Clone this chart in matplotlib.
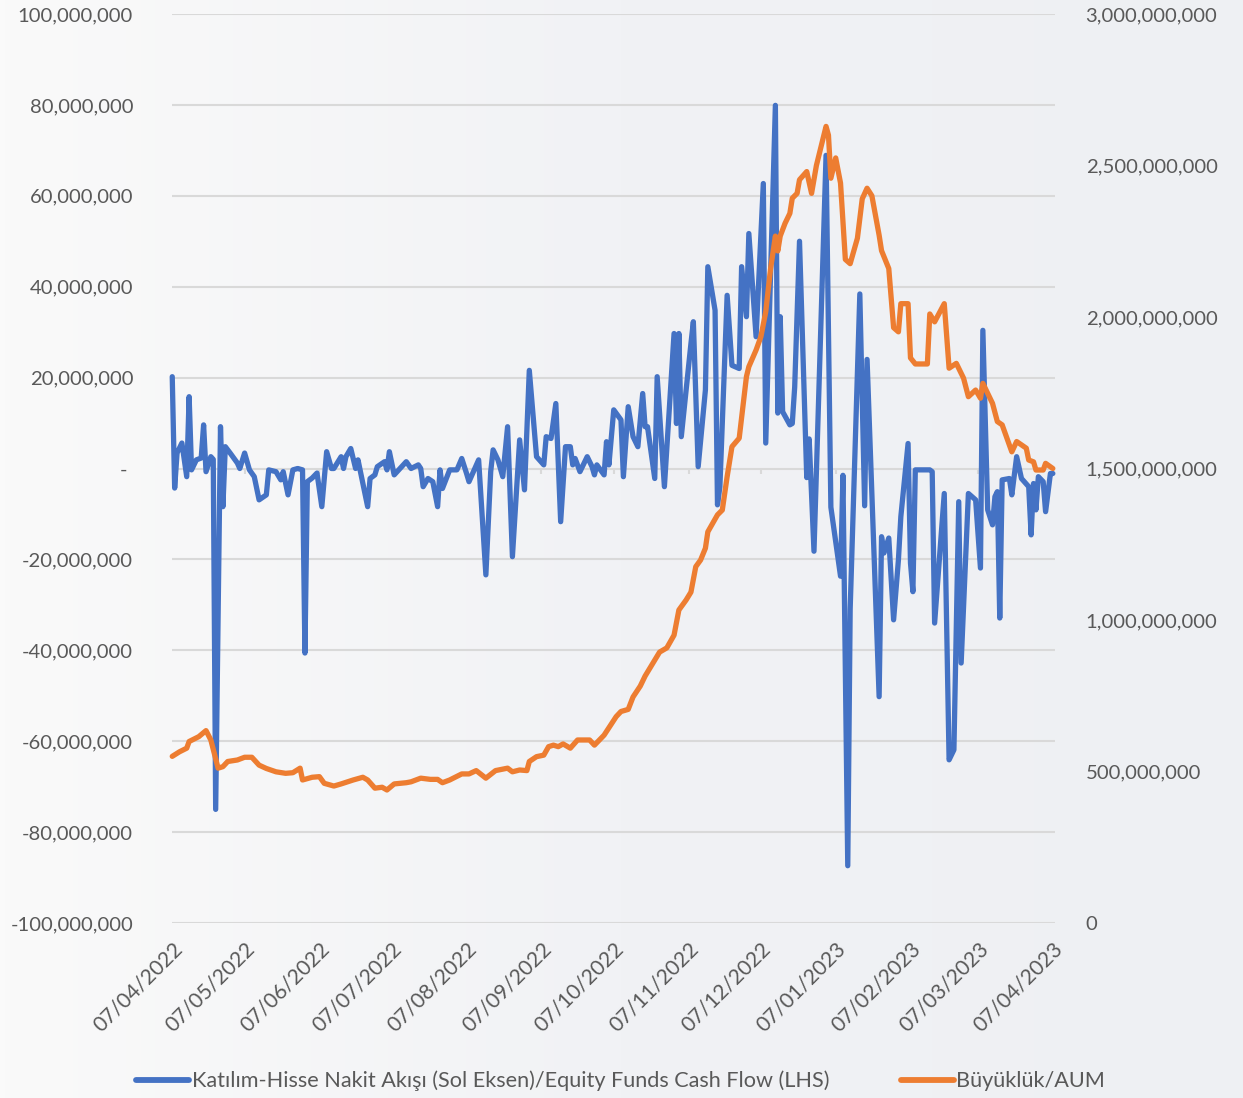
import numpy as np
import pandas as pd
import matplotlib
matplotlib.use("Agg")
import matplotlib.pyplot as plt
import matplotlib.dates as mdates
from matplotlib.ticker import FuncFormatter
from matplotlib.lines import Line2D
from matplotlib.colors import LinearSegmentedColormap

# ---------------- data ----------------
START = "2022-04-07"

# Equity funds cash flow (LHS), day offset from START and value in TRY million
flow_day = [0, 1, 2, 4, 6, 7, 8, 10, 12, 13, 14, 16, 17, 18, 20, 21, 22, 24, 27, 28,
            30, 32, 34, 36, 39, 40, 43, 45, 46, 48, 50, 52, 54, 55, 56, 58, 60, 62, 64, 66,
            67, 70, 71, 72, 74, 76, 77, 81, 82, 84, 85, 88, 89, 90, 92, 97, 99, 102, 103, 104,
            106, 108, 110, 111, 112, 115, 118, 120, 122, 123, 127, 130, 132, 133, 135, 137, 139, 141, 144, 146,
            148, 151, 154, 155, 157, 159, 161, 163, 165, 166, 167, 169, 172, 174, 175, 176, 179, 180, 181, 183,
            186, 187, 189, 191, 193, 195, 196, 197, 200, 201, 204, 208, 209, 210, 211, 215, 216, 218, 221, 222,
            225, 226, 227, 230, 232, 235, 236, 238, 239, 242, 245, 246, 250, 251, 252, 253, 256, 257, 258, 260,
            263, 264, 266, 271, 273, 277, 278, 280, 281, 285, 287, 288, 293, 294, 295, 297, 299, 301, 302, 305,
            306, 307, 308, 314, 315, 316, 320, 322, 324, 326, 327, 330, 333, 335, 336, 338, 340, 341, 342, 343,
            344, 347, 348, 350, 352, 355, 356, 357, 358, 359, 361, 362, 364, 365]
flow_mn = [20.2, -4.3, 3.4, 5.6, -1.8, 15.8, -0.3, 1.9, 2.3, 9.6, -0.7, 2.6, 2.0, -75.0, 9.2, -8.4, 4.8, 3.4, 1.2, 0.0,
           3.4, -0.3, -1.8, -6.9, -5.8, -0.3, -0.7, -2.5, -0.7, -5.8, -0.3, 0.0, -0.3, -40.6, -2.9, -2.1, -1.0, -8.4, 3.7, 0.0,
           0.0, 2.6, 0.0, 2.6, 4.4, 0.0, 1.9, -8.4, -2.2, -1.4, 0.4, 1.5, -0.3, 3.7, -1.4, 1.5, 0.0, 0.8, 0.0, -4.0,
           -2.2, -2.9, -8.4, -0.3, -4.4, -0.3, -0.3, 2.2, -1.1, -2.9, 1.9, -23.4, -0.7, 4.1, 1.9, -1.8, 9.2, -19.4, 6.3, -4.7,
           21.6, 2.6, 0.8, 7.0, 6.6, 14.3, -11.7, 4.8, 4.8, 0.8, 2.2, -0.7, 2.6, 0.4, -1.4, 0.8, -1.4, 5.9, 0.8, 12.9,
           10.7, -1.8, 13.6, 7.0, 4.8, 16.5, 9.2, 9.2, -2.2, 20.2, -4.0, 29.7, 9.9, 29.7, 7.0, 27.5, 32.3, 0.4, 17.3, 44.4,
           34.8, -8.0, -4.0, 38.1, 22.7, 22.0, 44.4, 33.4, 51.7, 29.0, 62.7, 5.6, 79.9, 12.2, 33.4, 12.5, 9.6, 9.9, 17.9, 50.0,
           -2.0, 6.5, -18.2, 68.9, -8.5, -23.7, -1.5, -87.4, -30.9, 38.4, -8.2, 24.0, -50.2, -15.0, -18.6, -15.3, -33.3, -20.1, -10.6, 5.5,
           -20.8, -27.1, -0.3, -0.3, -0.7, -34.0, -5.5, -64.1, -61.9, -7.3, -42.8, -5.5, -6.9, -21.9, 30.4, -9.1, -12.4, -6.2, -5.1, -32.9,
           -2.5, -2.2, -5.8, 2.6, -2.2, -4.0, -14.6, -3.3, -9.1, -1.8, -2.9, -9.5, -1.1, -1.1]

# AUM (RHS), day offset from START and value in TRY million
aum_day = [0, 3, 6, 7, 11, 14, 16, 19, 21, 23, 27, 30, 33, 36, 39, 43, 47, 50, 53, 54,
           58, 61, 63, 67, 70, 75, 79, 81, 84, 87, 89, 92, 97, 99, 103, 107, 110, 112, 115, 120,
           123, 126, 130, 134, 139, 141, 144, 147, 148, 151, 154, 156, 158, 160, 162, 165, 168, 173, 175, 179,
           184, 186, 189, 191, 194, 196, 200, 202, 205, 208, 210, 213, 215, 217, 219, 221, 222, 224, 226, 228,
           230, 232, 235, 238, 239, 242, 244, 246, 248, 250, 251, 252, 254, 256, 257, 259, 260, 263, 265, 267,
           271, 272, 273, 275, 277, 279, 281, 284, 286, 288, 290, 293, 294, 297, 299, 301, 302, 305, 306, 308,
           313, 314, 316, 320, 322, 325, 328, 330, 333, 335, 336, 338, 340, 342, 344, 348, 350, 354, 355, 357,
           358, 361, 362, 365]
aum_mn = [550, 565, 577, 599, 615, 635, 604, 511, 516, 533, 538, 547, 547, 521, 510, 499, 494, 496, 511, 472,
          481, 483, 461, 452, 459, 472, 481, 472, 445, 448, 439, 459, 463, 466, 478, 474, 474, 463, 472, 492,
          492, 503, 478, 503, 511, 499, 505, 503, 533, 549, 554, 582, 587, 582, 591, 577, 604, 604, 587, 620,
          681, 698, 705, 746, 782, 815, 868, 894, 908, 950, 1033, 1066, 1092, 1176, 1198, 1237, 1291, 1319, 1347, 1363,
          1473, 1572, 1600, 1803, 1836, 1891, 1935, 2017, 2159, 2267, 2218, 2267, 2309, 2342, 2392, 2408, 2453, 2480, 2408, 2500,
          2629, 2600, 2458, 2525, 2442, 2190, 2176, 2260, 2390, 2425, 2400, 2270, 2219, 2160, 1965, 1951, 2044, 2044, 1865, 1845,
          1845, 2010, 1984, 2044, 1831, 1847, 1798, 1737, 1759, 1732, 1781, 1748, 1715, 1655, 1644, 1555, 1589, 1567, 1528, 1522,
          1495, 1495, 1517, 1500]

month_ticks = ["2022-04-07", "2022-05-07", "2022-06-07", "2022-07-07", "2022-08-07",
               "2022-09-07", "2022-10-07", "2022-11-07", "2022-12-07", "2023-01-07",
               "2023-02-07", "2023-03-07", "2023-04-07"]
left_ticks_mn = [-100, -80, -60, -40, -20, 0, 20, 40, 60, 80, 100]
right_ticks_mn = [0, 500, 1000, 1500, 2000, 2500, 3000]

flow_label = "Katılım-Hisse Nakit Akışı (Sol Eksen)/Equity Funds Cash Flow (LHS)"
aum_label = "Büyüklük/AUM"

# ---------------- styling ----------------
BLUE = "#4472C4"
ORANGE = "#ED7D31"
TXT = "#595959"
GRID = "#d9d9d9"
plt.rcParams["font.family"] = ["Lato", "DejaVu Sans"]
FS = 14.6

start = pd.Timestamp(START)
flow_dates = start + pd.to_timedelta(flow_day, unit="D")
aum_dates = start + pd.to_timedelta(aum_day, unit="D")
tick_dates = pd.to_datetime(month_ticks)

fig = plt.figure(figsize=(12.43, 10.98), dpi=100)
fig.patch.set_facecolor("#f3f4f6")

# soft background
bg = fig.add_axes([0, 0, 1, 1], zorder=-10)
grad = np.linspace(0, 1, 256).reshape(1, -1)
cmap = LinearSegmentedColormap.from_list("bg", ["#fafafa", "#f1f2f5", "#eef0f3"])
bg.imshow(grad, aspect="auto", cmap=cmap, extent=[0, 1, 0, 1])
bg.axis("off")

L, R, T, B = 172 / 1243, 1055 / 1243, 1 - 14 / 1098, 1 - 923 / 1098
ax = fig.add_axes([L, B, R - L, T - B])
ax.set_facecolor("none")
ax2 = ax.twinx()

ax.plot(flow_dates, np.array(flow_mn) * 1e6, color=BLUE, lw=3.8,
        solid_joinstyle="round", solid_capstyle="round", zorder=3, clip_on=False)
ax2.plot(aum_dates, np.array(aum_mn) * 1e6, color=ORANGE, lw=3.8,
         solid_joinstyle="round", solid_capstyle="round", zorder=3, clip_on=False)

ax.set_xlim(start - pd.Timedelta(days=0.1), tick_dates[-1] + pd.Timedelta(days=0.9))
ax.set_ylim(-100e6, 100e6)
ax2.set_ylim(0, 3e9)

ax.set_yticks(np.array(left_ticks_mn) * 1e6)
ax2.set_yticks(np.array(right_ticks_mn) * 1e6)


def left_fmt(v, pos):
    if abs(v) < 1:
        return "- "
    return f"{v:,.0f}"


def right_fmt(v, pos):
    return f"{v:,.0f}"


ax.yaxis.set_major_formatter(FuncFormatter(left_fmt))
ax2.yaxis.set_major_formatter(FuncFormatter(right_fmt))

ax.grid(axis="y", color=GRID, lw=1.5)
ax.set_axisbelow(True)

# small tick marks on the zero line
ax.vlines(tick_dates, -1.3e6, 0, color=GRID, lw=1.5, zorder=1)

ax.set_xticks(tick_dates)
ax.xaxis.set_major_formatter(mdates.DateFormatter("%d/%m/%Y"))
for lab in ax.get_xticklabels():
    lab.set_rotation(45)
    lab.set_ha("right")
    lab.set_va("top")
    lab.set_rotation_mode("anchor")

for a in (ax, ax2):
    for s in a.spines.values():
        s.set_visible(False)
    a.tick_params(length=0, labelsize=FS, colors=TXT)

ax.tick_params(axis="x", pad=11, labelsize=FS + 0.6)
ax.tick_params(axis="y", pad=28)
ax2.tick_params(axis="y", pad=22)

handles = [Line2D([], [], color=BLUE, lw=4.2, solid_capstyle="round"),
           Line2D([], [], color=ORANGE, lw=4.2, solid_capstyle="round")]
leg = fig.legend(handles, [flow_label, aum_label], loc="center",
                 bbox_to_anchor=(0.4992, 1 - 1081 / 1098), ncol=2, frameon=False,
                 fontsize=15.6, handlelength=2.45, handletextpad=0.12,
                 columnspacing=3.3)
for t in leg.get_texts():
    t.set_color(TXT)

fig.savefig("out.png", dpi=100, facecolor=fig.get_facecolor())
